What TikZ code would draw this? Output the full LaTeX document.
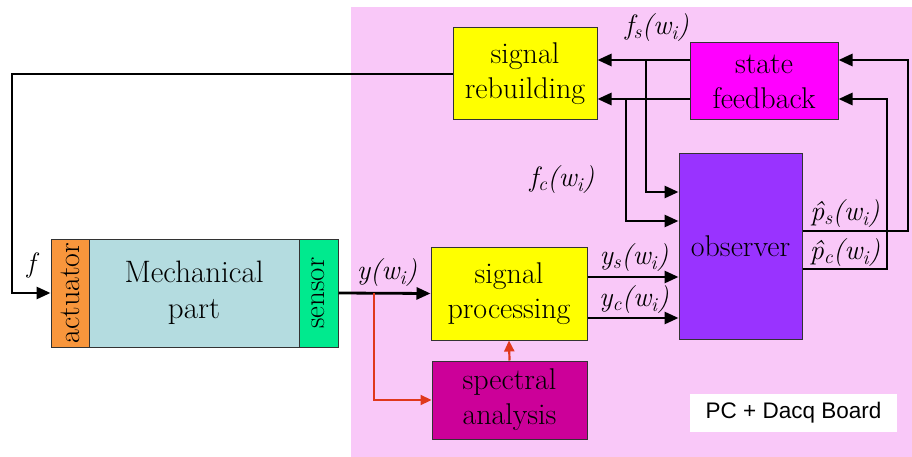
\documentclass[tikz,border=0pt]{standalone}
\usepackage{fontspec}
\setsansfont{Liberation Sans}
\newfontfamily\dvs{DejaVu Serif}
\usetikzlibrary{arrows.meta,calc}
\definecolor{pinkbg}{HTML}{F9C8F8}
\definecolor{yel}{HTML}{FFFF00}
\definecolor{sfc}{HTML}{FF00FF}
\definecolor{obsc}{HTML}{9933FF}
\definecolor{specc}{HTML}{CC0099}
\definecolor{actc}{HTML}{F8963C}
\definecolor{mechc}{HTML}{B4DCE0}
\definecolor{senc}{HTML}{00EA8E}
\definecolor{redc}{HTML}{E0381C}
\newcommand\mysub[1]{\textsubscript{#1}}
\begin{document}
\begin{tikzpicture}[x=1pt,y=-1pt,
  box/.style={draw=black!80,line width=1pt,inner sep=0pt,align=center,font=\rmfamily\fontsize{30}{35}\selectfont},
  txt/.style={inner sep=0pt,font=\rmfamily\fontsize{30}{35}\selectfont},
  conn/.style={line width=2.8pt,-{Triangle[length=14pt,width=12pt]}},
  rconn/.style={draw=redc,line width=2.2pt,-{Triangle[length=11pt,width=10pt]}},
  lbl/.style={font=\rmfamily\fontsize{28}{30}\selectfont\itshape,inner sep=0pt}]
\fill[white] (0,0) rectangle (912,457);
\useasboundingbox (0,0) rectangle (912,457);
\fill[pinkbg] (351,7) rectangle (912,457);

% boxes
\node[box,fill=yel,minimum width=144pt,minimum height=92pt] (rb) at (525,74) {signal\\rebuilding};
\node[box,fill=sfc,minimum width=148pt,minimum height=77pt] (sf) at (764,81.5) {state\\feedback};
\node[box,fill=obsc,minimum width=123pt,minimum height=185pt] (obs) at (740.5,246.5) {observer};
\node[box,fill=yel,minimum width=156pt,minimum height=93pt] (proc) at (509,293.5) {signal\\processing};
\node[box,fill=specc,minimum width=155pt,minimum height=78pt] (sp) at (509.5,400) {spectral\\analysis};
\node[box,fill=mechc,minimum width=210pt,minimum height=108pt,font=\rmfamily\fontsize{31}{36}\selectfont] (mech) at (194,293) {Mechanical\\part};
\node[box,fill=actc,minimum width=38pt,minimum height=108pt] (act) at (70,293) {};
\node[txt,rotate=90] (actT) at (act.center) {actuator};
\node[box,fill=senc,minimum width=39pt,minimum height=108pt] (sen) at (318.5,293) {};
\node[txt,rotate=90,font=\rmfamily\fontsize{29}{34}\selectfont] (senT) at (sen.center) {sensor};
\node[fill=white,minimum width=207pt,minimum height=38pt,inner sep=0pt,font=\sffamily\fontsize{22.5}{26}\selectfont] (pc) at (793.5,413) {PC + Dacq Board};

% helper coordinates
\coordinate (hA) at (0,60);
\coordinate (hB) at (0,99);
\coordinate (hC) at (0,192);
\coordinate (hD) at (0,221);
\coordinate (hE) at (0,231);
\coordinate (hF) at (0,269);
\coordinate (hG) at (0,277);
\coordinate (hH) at (0,318);
\coordinate (vA) at (646,0);
\coordinate (vB) at (626,0);
\coordinate (vC) at (908,0);
\coordinate (vD) at (887,0);
\coordinate (lft) at (12,293);
\coordinate (tap) at (374,293);

% connectors
\draw[conn] (rb.west) -| (lft) -- (act.west);
\draw[conn] (sen.east) -- (proc.west);
\draw[rconn] (tap) |- (sp.west);
\draw[rconn] (sp.north) -- (proc.south);
\draw[conn] (sf.west|-hA) -- (rb.east|-hA);
\draw[conn] (sf.west|-hB) -- (rb.east|-hB);
\draw[conn] (vA|-hA) |- (obs.west|-hC);
\draw[conn] (vB|-hB) |- (obs.west|-hD);
\draw[conn] (obs.east|-hE) -| (vC|-hA) -- (sf.east|-hA);
\draw[conn] (obs.east|-hF) -| (vD|-hB) -- (sf.east|-hB);
\draw[conn] (proc.east|-hG) -- (obs.west|-hG);
\draw[conn] (proc.east|-hH) -- (obs.west|-hH);

% labels
\node[lbl] (lf) at (31,265) {f};
\node[lbl] (ly) at (387,273) {y(w\mysub{i})};
\node[lbl] (lfs) at (657,28) {f\mysub{s}(w\mysub{i})};
\node[lbl] (lfc) at (562,180) {f\mysub{c}(w\mysub{i})};
\node[lbl] (lys) at (634,258) {y\mysub{s}(w\mysub{i})};
\node[lbl] (lyc) at (634,300) {y\mysub{c}(w\mysub{i})};
\node[lbl] (lps) at (845,214) {\^{p}\mysub{s}(w\mysub{i})};
\node[lbl] (lpc) at (845,253) {\^{p}\mysub{c}(w\mysub{i})};
\end{tikzpicture}
\end{document}
